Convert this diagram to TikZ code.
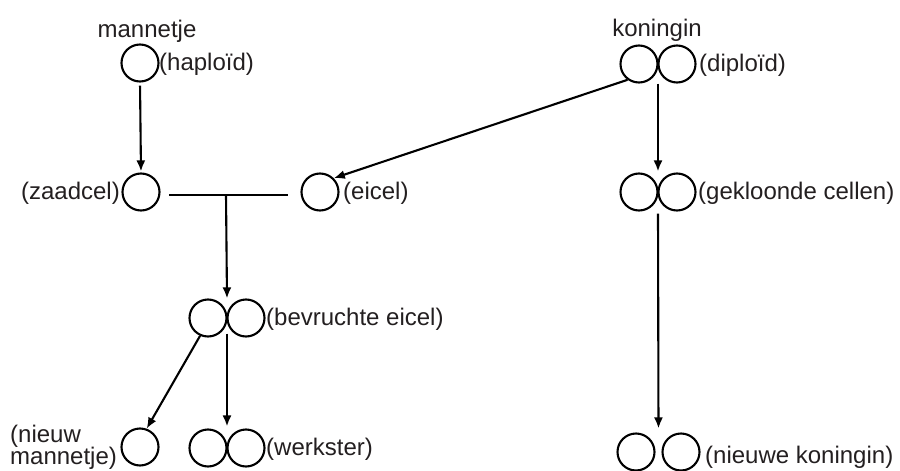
\documentclass[tikz,border=0pt]{standalone}
\usepackage{fontspec}
\setmainfont{Liberation Sans}
\usetikzlibrary{arrows.meta,calc}
\definecolor{txt}{HTML}{231F20}
\begin{document}
\begin{tikzpicture}[x=1pt,y=-1pt,
  cell/.style={circle,draw,line width=2.1pt,minimum size=37pt,inner sep=0pt},
  lbl/.style={anchor=base west,inner sep=0pt,text=txt,font=\fontsize{24}{29}\selectfont},
  conn/.style={line width=2.1pt},
  arr/.style={conn,-{Latex[length=11pt,width=9pt]}}]
\useasboundingbox (0,0) rectangle (900,471);
% left column
\node[lbl,anchor=base] (tm) at (147,37) {mannetje};
\node[cell] (mc) at (140,63) {};
\node[lbl] (th) at (159,70) {(haploïd)};
\node[cell] (zc) at (141,192) {};
\node[lbl,anchor=base east] (tz) at (120,199) {(zaadcel)};
\node[cell] (ec) at (320,192) {};
\node[lbl] (te) at (343,199) {(eicel)};
\node[cell] (b1) at (208,318) {};
\node[cell] (b2) at (246,318) {};
\node[lbl] (tb) at (266,325) {(bevruchte eicel)};
\node[cell] (nm) at (140,447) {};
\node[lbl] (tn1) at (10,442) {(nieuw};
\node[lbl] (tn2) at (10,464) {mannetje)};
\node[cell] (w1) at (208,448) {};
\node[cell] (w2) at (246,448) {};
\node[lbl] (tw) at (266,455) {(werkster)};
% right column
\node[lbl,anchor=base] (tk) at (657,36) {koningin};
\node[cell] (k1) at (639,64) {};
\node[cell] (k2) at (677,64) {};
\node[lbl] (td) at (699,71) {(diploïd)};
\node[cell] (g1) at (639,192) {};
\node[cell] (g2) at (677,192) {};
\node[lbl] (tg) at (698,199) {(gekloonde cellen)};
\node[cell] (n1) at (636,452) {};
\node[cell] (n2) at (681,452) {};
\node[lbl] (tq) at (705,463) {(nieuwe koningin)};
% junction
\coordinate (j1) at (169,195);
\coordinate (j2) at (288,195);
\coordinate (jm) at (226,195);
% connectors
\draw[arr,shorten <=3pt,shorten >=1pt] (mc.south) -- (zc.north);
\draw[conn] (j1) -- (j2);
\draw[arr] (jm) -- ($(b1.north)!.5!(b2.north)$);
\draw[arr] (k1.-126) -- (ec.45);
\draw[arr,shorten >=1pt] ($(k1.south)!.5!(k2.south)$) -- ($(g1.north)!.5!(g2.north)$);
\draw[arr,shorten <=2pt,shorten >=4pt] ($(g1.south)!.5!(g2.south)$) -- ($(n1.north)!.5!(n2.north)$);
\draw[arr] (b1.-114) -- (nm.70);
\draw[arr,shorten <=-4pt,shorten >=2pt] ($(b1.south)!.5!(b2.south)$) -- ($(w1.north)!.5!(w2.north)$);
\end{tikzpicture}
\end{document}
